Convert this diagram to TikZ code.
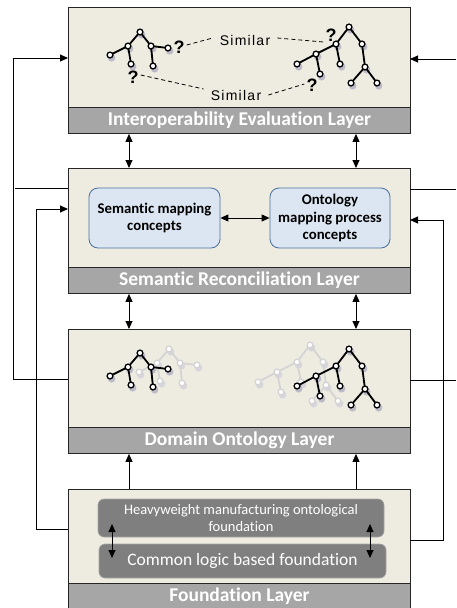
\documentclass[tikz,border=0pt]{standalone}
\usepackage{fontspec}
\setmainfont[Ligatures=NoCommon]{Carlito}
\newfontfamily\simfont[LetterSpace=9]{Liberation Sans}
\newfontfamily\qfont{Liberation Sans}
\usetikzlibrary{arrows.meta,calc}
\definecolor{layerfill}{HTML}{EEECE1}
\definecolor{bandfill}{HTML}{A6A6A6}
\definecolor{conceptfill}{HTML}{DCE6F2}
\definecolor{conceptline}{HTML}{4A6F9C}
\definecolor{basefill}{HTML}{7F7F7F}
\definecolor{ghost}{HTML}{D4D4D4}
\definecolor{tshadow}{HTML}{A8A5BC}
\colorlet{tcol}{black}
\colorlet{tsh}{tshadow}
\tikzset{
  layerbox/.style={draw=black!85, line width=0.9pt, fill=layerfill, minimum width=342pt, inner sep=0pt, anchor=north west},
  bandbox/.style={draw=black!85, line width=0.9pt, fill=bandfill, minimum width=342pt, minimum height=26pt, inner sep=0pt, anchor=north west,
    text=white, font=\bfseries\fontsize{19.5}{19.5}\selectfont},
  concept/.style={draw=conceptline, line width=0.8pt, fill=conceptfill, rounded corners=9pt, minimum height=60pt, inner sep=2pt,
    align=center, font=\bfseries\fontsize{14.8}{17.5}\selectfont},
  basebox/.style={draw=black!35, line width=0.6pt, fill=basefill, rounded corners=6pt, inner sep=2pt, align=center, text=white},
  link/.style={draw=black, line width=0.9pt},
  tip/.style={-{Triangle[length=8pt,width=7pt]}},
  dbl/.style={{Triangle[length=8pt,width=7pt]}-{Triangle[length=8pt,width=7pt]}},
  simdash/.style={draw=black, line width=0.8pt, dash pattern=on 4pt off 3pt},
  quest/.style={font=\qfont\bfseries\fontsize{18}{18}\selectfont, inner sep=0pt},
  simtext/.style={font=\simfont\fontsize{14}{14}\selectfont, inner xsep=7pt, inner ysep=1pt},
  tedge/.style={line width=1.8pt, line cap=round, draw=tcol},
  tree colours/.code 2 args={\colorlet{tcol}{#1}\colorlet{tsh}{#2}},
  % small ontology trees
  treeA/.pic={
    \foreach \p in {(0,0),(-12,14),(11,14),(-30,23),(-9,32),(13,34),(28,16)}
      \fill[tsh, opacity=0.7] \p ++(1.6,2.8) circle (3.8pt);
    \draw[tedge] (-30,23) -- (-12,14) -- (0,0) -- (11,14) -- (28,16)
      (-12,14) -- (-9,32) (11,14) -- (13,34);
    \foreach \p in {(0,0),(-12,14),(11,14),(-30,23),(-9,32),(13,34),(28,16)}
      \draw[draw=tcol, fill=white, line width=1.3pt] \p circle (2.9pt);
  },
  treeB/.pic={
    \foreach \p in {(0,0),(-13,17),(13,17),(-33,27),(-9,37),(-52,37),(-29,47),(16,40),(2,56),(28,56)}
      \fill[tsh, opacity=0.7] \p ++(1.6,2.8) circle (3.8pt);
    \draw[tedge] (-52,37) -- (-33,27) -- (-13,17) -- (0,0) -- (13,17) -- (16,40) -- (2,56)
      (-13,17) -- (-9,37) (-33,27) -- (-29,47) (16,40) -- (28,56);
    \foreach \p in {(0,0),(-13,17),(13,17),(-33,27),(-9,37),(-52,37),(-29,47),(16,40),(2,56),(28,56)}
      \draw[draw=tcol, fill=white, line width=1.3pt] \p circle (2.9pt);
  }
}
\begin{document}
\begin{tikzpicture}[x=1pt, y=-1pt]
\useasboundingbox (0,0) rectangle (456,608);
\fill[white] (0,0) rectangle (456,608);

% column positions of the vertical links
\coordinate (colL) at (129,0);
\coordinate (colR) at (356,0);

% ---------- layer boxes ----------
\node[layerbox, minimum height=126pt] (L1) at (68,7) {};
\node[bandbox] (B1) at (68,107) {Interoperability Evaluation Layer};

\node[layerbox, minimum height=125pt] (L2) at (68,168) {};
\node[bandbox] (B2) at (68,267) {Semantic Reconciliation Layer};

\node[layerbox, minimum height=124pt] (L3) at (68,329) {};
\node[bandbox] (B3) at (68,427) {Domain Ontology Layer};

\node[layerbox, minimum height=122pt] (L4) at (68,489) {};
\node[bandbox, minimum height=25pt] (B4) at (68,583) {Foundation Layer};

% ---------- interoperability evaluation ----------
\pic[tree colours={black}{tshadow}] at (140,32) {treeA};
\pic[tree colours={black}{tshadow}] at (349,27) {treeB};
\node[quest] (q1) at (179,47) {?};
\node[quest] (q2) at (133,77) {?};
\node[quest] (q3) at (331,35) {?};
\node[quest] (q4) at (312,85) {?};
\node[simtext] (s1) at (245,40) {Similar};
\node[simtext] (s2) at (236,95) {Similar};
\draw[simdash] ($(q1.east)+(2,-2)$) -- ($(s1.west)+(0,-2)$);
\draw[simdash] ($(s1.east)+(0,-2)$) -- ($(q3.west)+(-2,7)$);
\draw[simdash] ($(q2.east)+(2,-2)$) -- ($(s2.west)+(0,-6)$);
\draw[simdash] (s2.east) -- ($(q4.west)+(-2,-1)$);

% ---------- semantic reconciliation ----------
\node[concept, minimum width=131pt] (c1) at (154.5,218) {Semantic mapping\\concepts};
\node[concept, minimum width=120pt] (c2) at (330,218) {Ontology\\mapping process\\concepts};
\draw[link, dbl] (c1.east) -- (c2.west);

% ---------- domain ontology ----------
\pic[tree colours={ghost}{tshadow!55}] at (169,349) {treeA};
\pic[tree colours={ghost}{tshadow!55}] at (310,345) {treeB};
\pic[tree colours={black}{tshadow}] at (140,353) {treeA};
\pic[tree colours={black}{tshadow}] at (349,349) {treeB};

% ---------- foundation ----------
\node[basebox, minimum width=286pt, minimum height=38pt, font=\fontsize{14.5}{17}\selectfont] (h1) at (241,518)
  {Heavyweight manufacturing ontological\\foundation};
\node[basebox, minimum width=287pt, minimum height=34pt, font=\fontsize{17.5}{19}\selectfont] (h2) at (242.5,561)
  {Common logic based foundation};
\coordinate (f1t) at (112,524); \coordinate (f1b) at (112,558);
\coordinate (f2t) at (370,524); \coordinate (f2b) at (370,558);
\draw[link, dbl] (f1t) -- (f1b);
\draw[link, dbl] (f2t) -- (f2b);

% ---------- links between layers ----------
\draw[link, dbl] (B1.south -| colL) -- (L2.north -| colL);
\draw[link, dbl] (B1.south -| colR) -- (L2.north -| colR);
\draw[link, dbl] (B2.south -| colL) -- (L3.north -| colL);
\draw[link, dbl] (B2.south -| colR) -- (L3.north -| colR);
\draw[link, tip] (L4.north -| colL) -- (B3.south -| colL);
\draw[link, tip] (L4.north -| colR) -- (B3.south -| colR);

% ---------- feedback loops, left ----------
\coordinate (lo) at (13,0);
\coordinate (li) at (36,0);
\coordinate (l3out) at (68,379);
\coordinate (l1in) at (68,58);
\coordinate (l2out) at (68,188);
\coordinate (l4out) at (68,529);
\coordinate (l2in) at (68,209);
\draw[link, tip] (l3out) -- (l3out -| lo) -- (l1in -| lo) -- (l1in);
\draw[link] (l2out) -- ($(l2out -| lo)+(2,0)$);
\draw[link, tip] (l4out) -- (l4out -| li) -- (l2in -| li) -- (l2in);

% ---------- feedback loops, right ----------
\coordinate (ri) at (443,0);
\coordinate (redge) at (456,0);
\coordinate (r1in) at (410,59);
\coordinate (r2out) at (410,189);
\coordinate (r3out) at (410,380);
\coordinate (r4out) at (410,540);
\coordinate (r2in) at (410,220);
\draw[link, tip] (r1in -| redge) -- (r1in);
\draw[link] (r2out) -- (r2out -| redge);
\draw[link] (r3out) -- (r3out -| redge);
\draw[link, tip] (r4out) -- (r4out -| ri) -- (r2in -| ri) -- (r2in);
\end{tikzpicture}
\end{document}
